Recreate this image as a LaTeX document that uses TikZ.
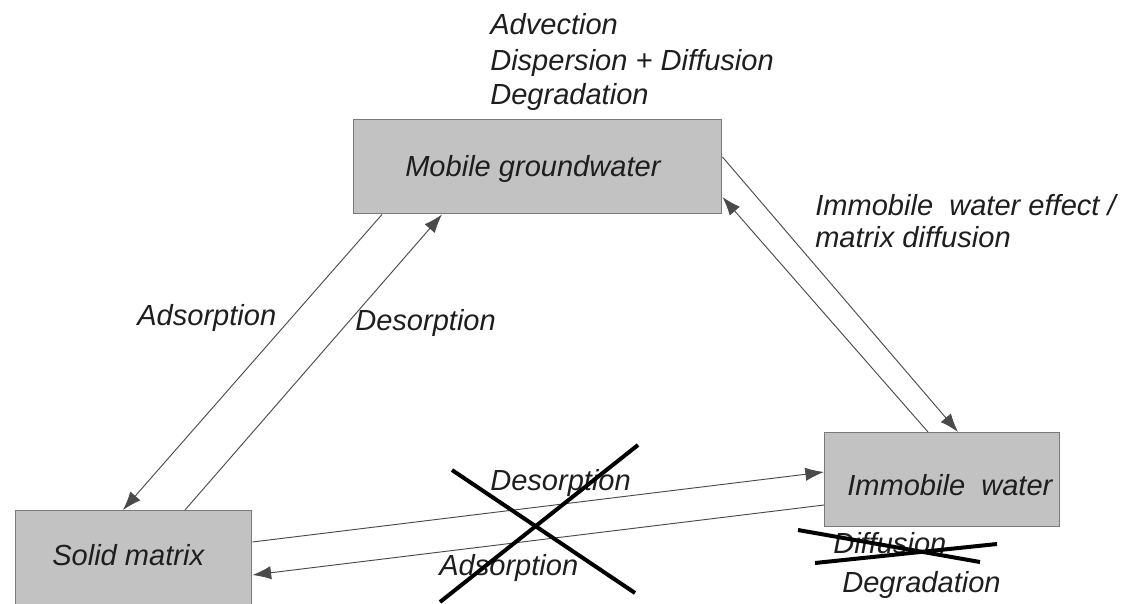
\documentclass[tikz,border=0pt]{standalone}
\usepackage{fontspec}
\setmainfont{Liberation Sans}
\usetikzlibrary{arrows.meta,calc}
\definecolor{boxfill}{HTML}{C2C2C2}
\definecolor{boxline}{HTML}{7A7A7A}
\definecolor{linecol}{HTML}{4A4A4A}
\definecolor{txtcol}{HTML}{1E1E1E}
\begin{document}
\begin{tikzpicture}[x=0.75pt,y=-0.75pt,
  box/.style={draw=boxline, line width=1.1pt, fill=boxfill, anchor=north west, inner sep=0pt},
  lbl/.style={anchor=base west, inner sep=0pt, text=txtcol, font=\fontsize{21.8pt}{26pt}\selectfont\itshape},
  conn/.style={draw=linecol, line width=0.7pt, -{Latex[length=14pt,width=10pt]}},
  strike/.style={line width=3pt, black}]
\useasboundingbox (0,0) rectangle (1134,603);
% boxes
\node[box, minimum width=276pt, minimum height=70.5pt] (mob) at (353,119) {};
\node[box, minimum width=177pt, minimum height=90pt] (sol) at (15,510) {};
\node[box, minimum width=176.25pt, minimum height=70.5pt] (imm) at (824,432) {};
% box texts
\node[lbl] (tmob) at (405,176) {Mobile groundwater};
\node[lbl] (tsol) at (52,565) {Solid matrix};
\node[lbl] (timm) at (847,495) {Immobile\ \ water};
% connectors
\draw[conn] ($(mob.south west)+(29,0)$) -- ($(sol.north west)+(108,0)$);
\draw[conn] ($(sol.north west)+(170,0)$) -- ($(mob.south west)+(89,0)$);
\draw[conn] ($(mob.north east)+(0,38)$) -- ($(imm.north west)+(134,0)$);
\draw[conn] ($(imm.north west)+(104,0)$) -- ($(mob.north east)+(0,78)$);
\draw[conn] ($(sol.north east)+(0,32)$) -- ($(imm.north west)+(0,40)$);
\draw[conn] ($(imm.north west)+(0,73)$) -- ($(sol.north east)+(0,65)$);
% labels
\node[lbl] (t1) at (490,34) {Advection};
\node[lbl] (t2) at (490,70) {Dispersion + Diffusion};
\node[lbl] (t3) at (490,104) {Degradation};
\node[lbl] (ads1) at (137,325) {Adsorption};
\node[lbl] (des1) at (355,330) {Desorption};
\node[lbl] (iwe1) at (815,215) {Immobile\ \ water effect /};
\node[lbl] (iwe2) at (815,247) {matrix diffusion};
\node[lbl] (des2) at (490,490) {Desorption};
\node[lbl] (ads2) at (439,575) {Adsorption};
\node[lbl] (dif) at (833,553) {Diffusion};
\node[lbl] (deg) at (842,592) {Degradation};
% crossings
\draw[strike] (452,470) -- (635,593);
\draw[strike] (440,602) -- (638,445);
\draw[strike] (798,530) -- (980,562);
\draw[strike] (815,563) -- (997,544);
\end{tikzpicture}
\end{document}
